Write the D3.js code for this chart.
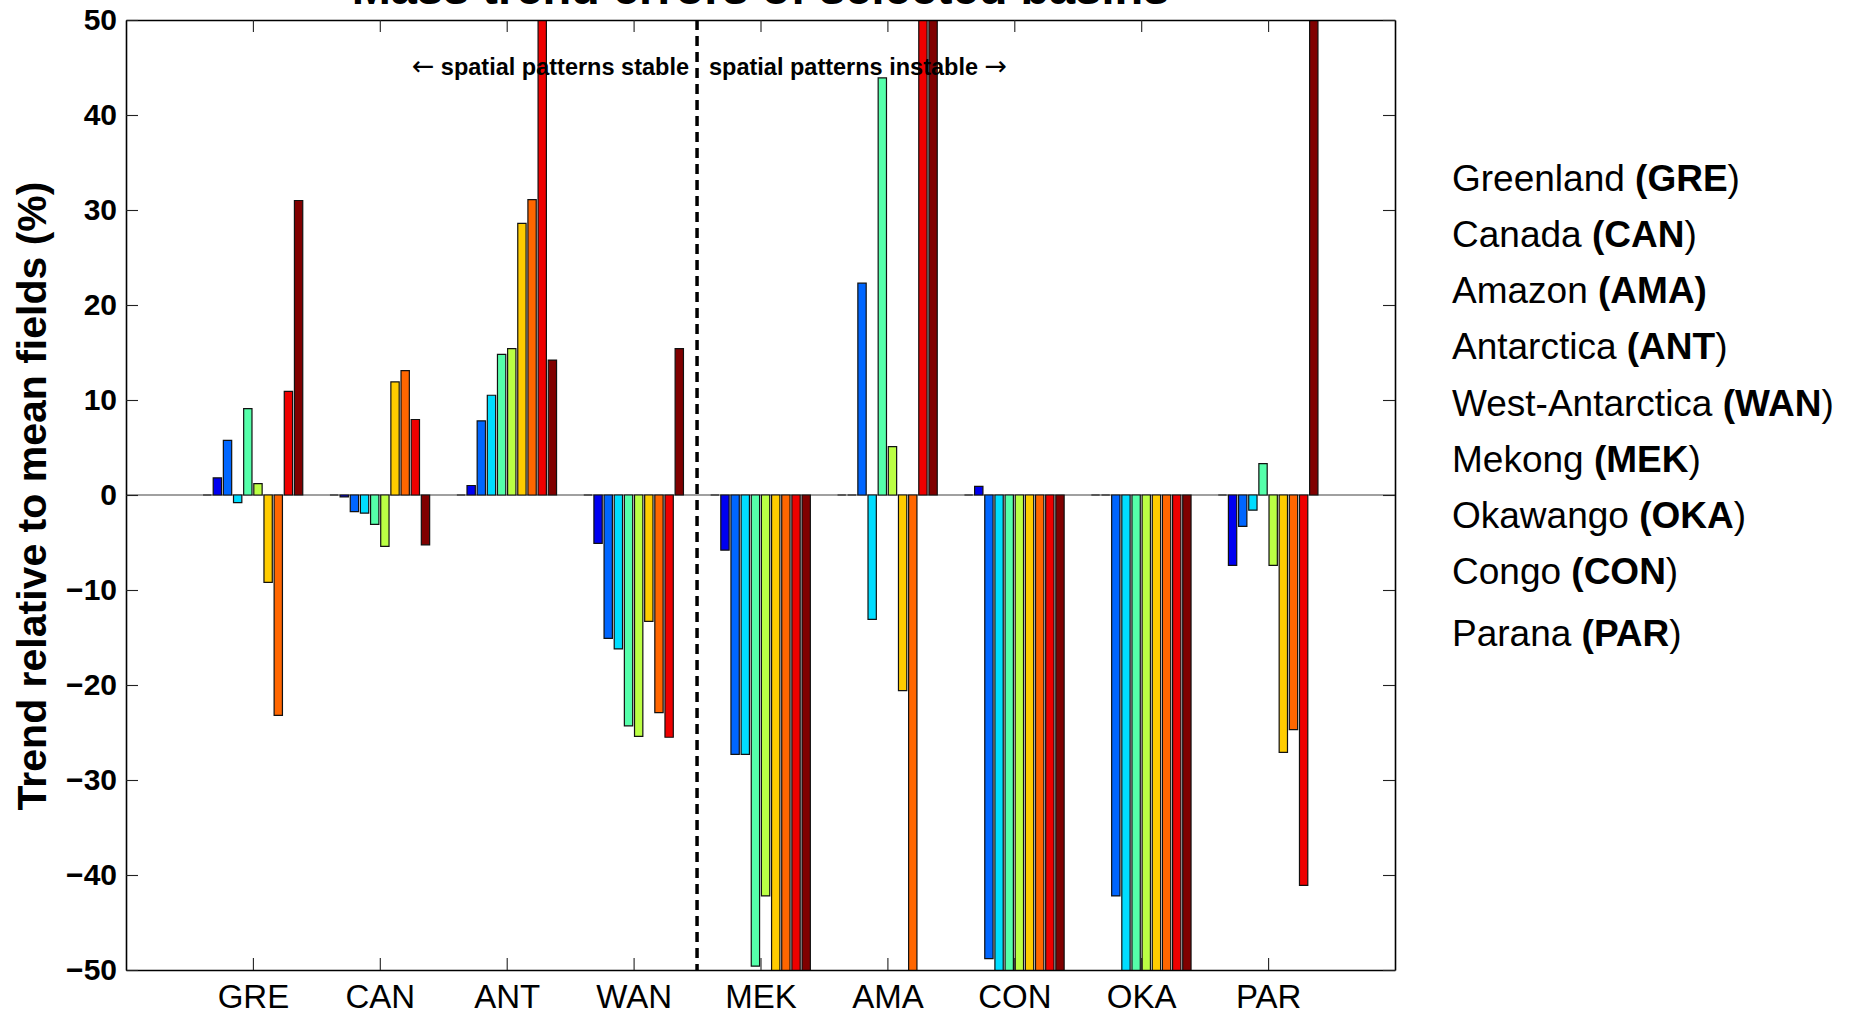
<!DOCTYPE html>
<html>
<head>
<meta charset="utf-8">
<script src="https://cdn.jsdelivr.net/npm/d3@7"></script>
<style>
  html, body { margin: 0; padding: 0; background: #fff; }
  svg { display: block; }
  text { font-family: "Liberation Sans", Arial, sans-serif; }
</style>
</head>
<body>
<svg id="chart" width="1850" height="1014"></svg>
<script>
// ---------- data ----------
const categories = ["GRE", "CAN", "ANT", "WAN", "MEK", "AMA", "CON", "OKA", "PAR"];
// one value per series (10 series, jet colours), % trend relative to mean fields
const valuesGRE = [0, 1.8, 5.75, -0.8, 9.1, 1.2, -9.2, -23.2, 10.9, 31.0];
const valuesCAN = [0, -0.2, -1.75, -1.9, -3.1, -5.4, 11.9, 13.1, 7.95, -5.25];
const valuesANT = [0, 1.0, 7.8, 10.5, 14.8, 15.4, 28.6, 31.1, 62, 14.2];
const valuesWAN = [0, -5.1, -15.1, -16.2, -24.3, -25.4, -13.3, -22.9, -25.5, 15.4];
const valuesMEK = [0, -5.8, -27.3, -27.3, -49.6, -42.2, -58, -64, -70, -75];
const valuesAMA = [0, 0, 22.3, -13.1, 43.9, 5.1, -20.6, -56, 68, 80];
const valuesCON = [0, 0.9, -48.8, -62, -66, -70, -72, -76, -80, -84];
const valuesOKA = [0, 0, -42.2, -61, -64, -67, -70, -73, -77, -82];
const valuesPAR = [0, -7.4, -3.3, -1.6, 3.3, -7.4, -27.1, -24.7, -41.1, 90];
const seriesColors = ["#00008f", "#0000f0", "#0066ff", "#00ddff", "#55ffaa",
                      "#bbff44", "#ffcc00", "#ff6600", "#ee0000", "#800000"];
const yTicks = [-50, -40, -30, -20, -10, 0, 10, 20, 30, 40, 50];
const legendNames = ["Greenland", "Canada", "Amazon", "Antarctica", "West-Antarctica",
                     "Mekong", "Okawango", "Congo", "Parana"];
const legendCodes = ["GRE", "CAN", "AMA", "ANT", "WAN", "MEK", "OKA", "CON", "PAR"];
const titleText = "Mass trend errors of selected basins";
const yLabel = "Trend relative to mean fields (%)";
const noteLeft = "spatial patterns stable";
const noteRight = "spatial patterns instable";

const groupValues = [valuesGRE, valuesCAN, valuesANT, valuesWAN, valuesMEK,
                     valuesAMA, valuesCON, valuesOKA, valuesPAR];

// ---------- layout ----------
const L = 126, R = 1395, T = 20, B = 970;
const svg = d3.select("#chart");
const x = d3.scaleLinear().domain([0, 10]).range([L, R]);
const y = d3.scaleLinear().domain([-50, 50]).range([B, T]);

const nS = seriesColors.length;
const slot = 0.8 / nS;          // group width 0.8
const barW = slot * 0.82;

svg.append("defs").append("clipPath").attr("id", "plotclip")
  .append("rect").attr("x", L).attr("y", T).attr("width", R - L).attr("height", B - T);

// zero baseline
svg.append("line")
  .attr("x1", L).attr("x2", R).attr("y1", y(0)).attr("y2", y(0))
  .attr("stroke", "#808080").attr("stroke-width", 1.6);

// bars
const barData = [];
groupValues.forEach((vals, gi) => {
  vals.forEach((v, si) => {
    barData.push({ c: gi + 1, s: si, v: v });
  });
});
svg.append("g").attr("clip-path", "url(#plotclip)")
  .selectAll("path").data(barData).enter().append("path")
  .attr("d", d => {
    const xc = d.c + (d.s - (nS - 1) / 2) * slot;
    const x0 = x(xc - barW / 2), x1 = x(xc + barW / 2);
    const y0 = y(0), y1 = y(d.v);
    return `M${x0},${y0}H${x1}V${y1}H${x0}Z`;
  })
  .attr("fill", d => seriesColors[d.s])
  .attr("stroke", "#111").attr("stroke-width", 1.2);

// dashed separator
svg.append("line")
  .attr("x1", x(4.5)).attr("x2", x(4.5)).attr("y1", T).attr("y2", B)
  .attr("stroke", "#000").attr("stroke-width", 3.5)
  .attr("stroke-dasharray", "10,6");

// axes
const fmtCat = d => categories[d - 1];
const xBottom = svg.append("g").attr("transform", `translate(0,${B})`)
  .call(d3.axisBottom(x).tickValues(d3.range(1, 10)).tickFormat(fmtCat)
        .tickSizeInner(-12).tickSizeOuter(0).tickPadding(15));
const xTop = svg.append("g").attr("transform", `translate(0,${T})`)
  .call(d3.axisTop(x).tickValues(d3.range(1, 10)).tickFormat("")
        .tickSizeInner(-12).tickSizeOuter(0));
const yLeft = svg.append("g").attr("transform", `translate(${L},0)`)
  .call(d3.axisLeft(y).tickValues(yTicks)
        .tickSizeInner(-12).tickSizeOuter(0).tickPadding(9));
const yRight = svg.append("g").attr("transform", `translate(${R},0)`)
  .call(d3.axisRight(y).tickValues(yTicks).tickFormat("")
        .tickSizeInner(-12).tickSizeOuter(0));

[xBottom, xTop, yLeft, yRight].forEach(g => {
  g.select(".domain").attr("stroke", "#000").attr("stroke-width", 1.6);
  g.selectAll(".tick line").attr("stroke", "#222").attr("stroke-width", 1.1);
});
xBottom.selectAll(".tick text")
  .attr("font-family", "Liberation Sans, Arial, sans-serif")
  .attr("font-size", 33).attr("fill", "#000");
yLeft.selectAll(".tick text")
  .attr("font-family", "Liberation Sans, Arial, sans-serif")
  .attr("font-size", 30).attr("font-weight", "bold").attr("fill", "#000");

// title (partly cut off at top, as in the original figure)
svg.append("text")
  .attr("x", (L + R) / 2).attr("y", 4)
  .attr("text-anchor", "middle")
  .attr("font-size", 47).attr("font-weight", "bold")
  .text(titleText);

// y label
svg.append("text")
  .attr("transform", `translate(46,${(T + B) / 2 + 1}) rotate(-90)`)
  .attr("text-anchor", "middle")
  .attr("font-size", 41).attr("font-weight", "bold")
  .text(yLabel);

// annotations
const nl = svg.append("text")
  .attr("x", 689).attr("y", 75).attr("text-anchor", "end")
  .attr("font-size", 23.5).attr("font-weight", "bold");
nl.append("tspan").attr("font-family", "DejaVu Sans").attr("font-weight", "normal")
  .attr("font-size", 27).text("\u2190");
nl.append("tspan").text(" " + noteLeft);
const nr = svg.append("text")
  .attr("x", 709).attr("y", 75).attr("text-anchor", "start")
  .attr("font-size", 23.5).attr("font-weight", "bold");
nr.append("tspan").text(noteRight + " ");
nr.append("tspan").attr("font-family", "DejaVu Sans").attr("font-weight", "normal")
  .attr("font-size", 27).text("\u2192");

// legend text
const leg = svg.append("g");
legendNames.forEach((name, i) => {
  const t = leg.append("text")
    .attr("x", 1452).attr("y", 190.7 + i * 56.2 + (i === legendNames.length - 1 ? 6 : 0))
    .attr("font-size", 37);
  t.append("tspan").text(name + " ");
  if (legendCodes[i] === "AMA") {
    t.append("tspan").attr("font-weight", "bold").text("(" + legendCodes[i] + ")");
  } else {
    t.append("tspan").attr("font-weight", "bold").text("(" + legendCodes[i]);
    t.append("tspan").text(")");
  }
});
</script>
</body>
</html>
